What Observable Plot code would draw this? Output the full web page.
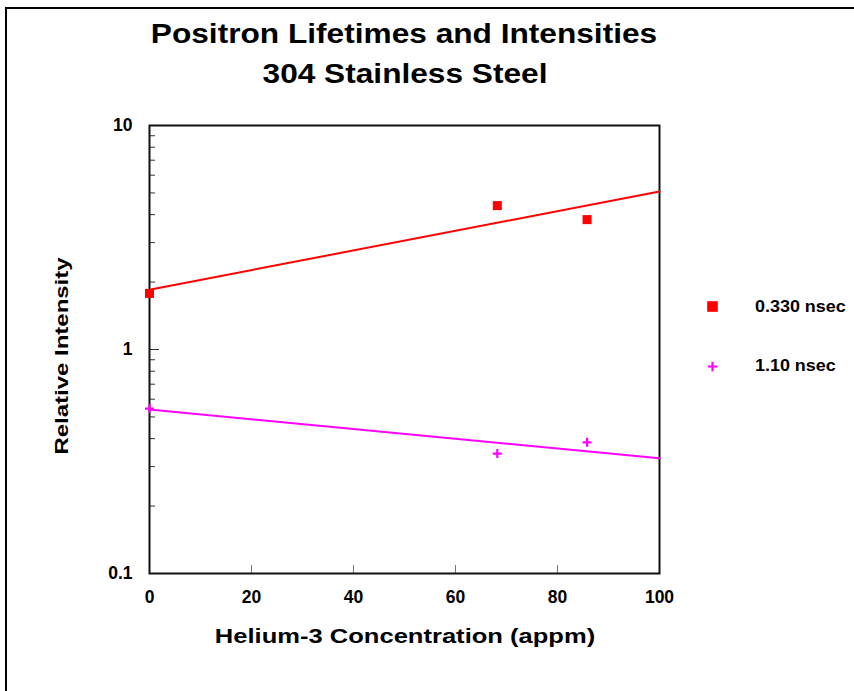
<!DOCTYPE html>
<html>
<head>
<meta charset="utf-8">
<script src="https://cdn.jsdelivr.net/npm/d3@7"></script>
<script src="https://cdn.jsdelivr.net/npm/@observablehq/plot@0.6"></script>
<style>
  body { margin: 0; background: #fff; }
  #wrap { position: relative; width: 854px; height: 691px; overflow: hidden; background: #fff;
          font-family: "Liberation Sans", Arial, sans-serif; font-weight: bold; color: #000; }
  #border { position: absolute; left: 5px; top: 7px; width: 900px; height: 800px;
            border-left: 2px solid #000; border-top: 2px solid #000; }
  .t { position: absolute; white-space: nowrap; line-height: 1; }
  #plot { position: absolute; left: 0; top: 0; }
</style>
</head>
<body>
<div id="wrap">
  <div id="border"></div>
  <div id="plot"></div>
  <div class="t" style="left:404px; top:34px; transform:translate(-50%,-50%) scaleX(1.13); font-size:28px;">Positron Lifetimes and Intensities</div>
  <div class="t" style="left:405px; top:73.5px; transform:translate(-50%,-50%) scaleX(1.13); font-size:28px;">304 Stainless Steel</div>
  <div class="t" style="left:62.5px; top:356px; transform:translate(-50%,-50%) rotate(-90deg) scaleX(1.37); font-size:17.5px;">Relative Intensity</div>
  <div class="t" style="left:404.5px; top:637px; transform:translate(-50%,-50%) scaleX(1.31); font-size:19.5px;">Helium-3 Concentration (appm)</div>
  <div class="t" id="leg1" style="left:755px; top:307px; transform:translate(0,-50%) scaleX(1.12); transform-origin:left center; font-size:16px;">0.330 nsec</div>
  <div class="t" id="leg2" style="left:755px; top:366px; transform:translate(0,-50%) scaleX(1.12); transform-origin:left center; font-size:16px;">1.10 nsec</div>
</div>
<script>
// Data
const concentration = [0, 68.2, 85.8];
const intensity330 = [1.78, 4.39, 3.80];
const intensity110 = [0.545, 0.343, 0.385];
const fitX = [0, 100];
const fit330 = [1.85, 5.07];
const fit110 = [0.54, 0.327];
const seriesNames = ["0.330 nsec", "1.10 nsec"];
const xTicks = [0, 20, 40, 60, 80, 100];
const yTicks = [0.1, 1, 10];
const yTickLabels = ["0.1", "1", "10"];
const yMinor = [0.2,0.3,0.4,0.5,0.6,0.7,0.8,0.9,2,3,4,5,6,7,8,9];

const pts330 = concentration.map((x, i) => ({x, y: intensity330[i]}));
const pts110 = concentration.map((x, i) => ({x, y: intensity110[i]}));
const line330 = fitX.map((x, i) => ({x, y: fit330[i]}));
const line110 = fitX.map((x, i) => ({x, y: fit110[i]}));

const red = "#ff0000", magenta = "#ff00ff";
const font = {fontFamily: "Liberation Sans, Arial, sans-serif", fontWeight: "bold"};

const chart = Plot.plot({
  width: 854,
  height: 691,
  marginLeft: 149,
  marginRight: 195,
  marginTop: 125,
  marginBottom: 118,
  style: {background: "transparent", fontFamily: "Liberation Sans, Arial, sans-serif", overflow: "visible"},
  x: {domain: [0, 100], label: null},
  y: {type: "log", domain: [0.1, 10], label: null},
  marks: [
    Plot.axisY({ticks: yMinor, tickSize: -6, text: null, stroke: "#333", label: null}),
    Plot.axisY({ticks: [1], tickSize: -10, text: null, stroke: "#333", label: null}),
    Plot.axisY({ticks: yTicks, tickSize: 0, tickPadding: 17, tickFormat: d => yTickLabels[yTicks.indexOf(d)], fontSize: 17.5, ...font, label: null}),
    Plot.axisX({ticks: [20, 40, 60, 80], tickSize: -8, text: null, stroke: "#777", label: null}),
    Plot.axisX({ticks: xTicks, tickSize: 0, tickPadding: 17, tickFormat: d => String(d), fontSize: 17.5, ...font, label: null}),
    Plot.frame({stroke: "#111", strokeWidth: 2}),
    Plot.line(line330, {x: "x", y: "y", stroke: red, strokeWidth: 2}),
    Plot.line(line110, {x: "x", y: "y", stroke: magenta, strokeWidth: 2}),
    Plot.dot(pts330, {x: "x", y: "y", symbol: "square", r: 5.1, fill: red, stroke: "none"}),
    Plot.dot(pts110, {x: "x", y: "y", symbol: "plus", r: 3, stroke: magenta, strokeWidth: 2.2})
  ]
});
document.getElementById("plot").appendChild(chart);

// Legend symbols drawn with Plot, in their own small SVGs
function legendSymbol(symbol, color, r, isFill, left, top) {
  const s = Plot.plot({
    width: 20, height: 20, margin: 0,
    x: {domain: [0, 1], axis: null}, y: {domain: [0, 1], axis: null},
    style: {background: "transparent", overflow: "visible"},
    marks: [Plot.dot([0], isFill
      ? {frameAnchor: "middle", symbol, r, fill: color, stroke: "none"}
      : {frameAnchor: "middle", symbol, r, stroke: color, strokeWidth: 2.2})]
  });
  const d = document.createElement("div");
  d.style.position = "absolute"; d.style.left = (left - 10) + "px"; d.style.top = (top - 10) + "px";
  d.appendChild(s);
  document.getElementById("wrap").appendChild(d);
}
legendSymbol("square", red, 6, true, 712, 306);
legendSymbol("plus", magenta, 3.2, false, 712, 366);
</script>
</body>
</html>
